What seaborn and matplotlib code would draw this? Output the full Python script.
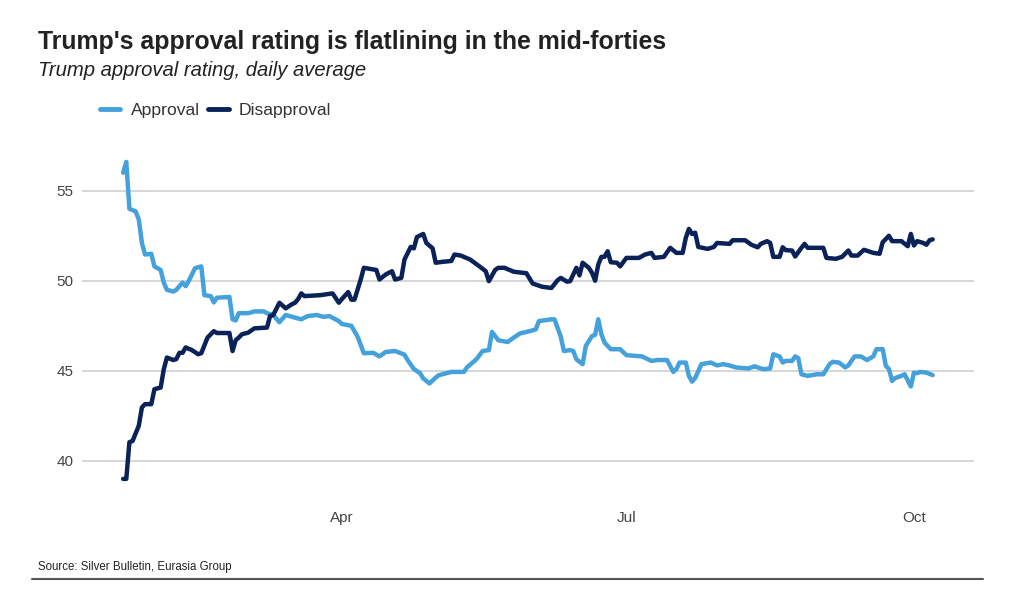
import pandas as pd
import numpy as np
import matplotlib
matplotlib.use("Agg")
import matplotlib.pyplot as plt
from matplotlib.lines import Line2D
import seaborn as sns

approval_dates = [
    "2025-01-21", "2025-01-22", "2025-01-23", "2025-01-25", "2025-01-26", "2025-01-27", "2025-01-28",
    "2025-01-30", "2025-01-31", "2025-02-02", "2025-02-03", "2025-02-04", "2025-02-06", "2025-02-07",
    "2025-02-09", "2025-02-10", "2025-02-11", "2025-02-13", "2025-02-15", "2025-02-16", "2025-02-18",
    "2025-02-19", "2025-02-20", "2025-02-24", "2025-02-25", "2025-02-26", "2025-02-27", "2025-03-02",
    "2025-03-04", "2025-03-07", "2025-03-08", "2025-03-10", "2025-03-12", "2025-03-14", "2025-03-16",
    "2025-03-19", "2025-03-21", "2025-03-24", "2025-03-26", "2025-03-28", "2025-03-31", "2025-04-01",
    "2025-04-04", "2025-04-06", "2025-04-08", "2025-04-11", "2025-04-13", "2025-04-15", "2025-04-18",
    "2025-04-21", "2025-04-22", "2025-04-24", "2025-04-26", "2025-04-27", "2025-04-29", "2025-05-01",
    "2025-05-02", "2025-05-06", "2025-05-10", "2025-05-11", "2025-05-14", "2025-05-16", "2025-05-18",
    "2025-05-19", "2025-05-21", "2025-05-24", "2025-05-26", "2025-05-28", "2025-05-31", "2025-06-02",
    "2025-06-03", "2025-06-07", "2025-06-08", "2025-06-10", "2025-06-11", "2025-06-13", "2025-06-14",
    "2025-06-15", "2025-06-17", "2025-06-18", "2025-06-20", "2025-06-21", "2025-06-22", "2025-06-23",
    "2025-06-24", "2025-06-26", "2025-06-29", "2025-07-01", "2025-07-06", "2025-07-09", "2025-07-11",
    "2025-07-14", "2025-07-16", "2025-07-17", "2025-07-18", "2025-07-20", "2025-07-21", "2025-07-22",
    "2025-07-23", "2025-07-25", "2025-07-28", "2025-07-30", "2025-08-01", "2025-08-03", "2025-08-05",
    "2025-08-09", "2025-08-11", "2025-08-13", "2025-08-14", "2025-08-16", "2025-08-17", "2025-08-19",
    "2025-08-20", "2025-08-21", "2025-08-23", "2025-08-24", "2025-08-25", "2025-08-26", "2025-08-28",
    "2025-08-31", "2025-09-02", "2025-09-04", "2025-09-05", "2025-09-07", "2025-09-09", "2025-09-10",
    "2025-09-12", "2025-09-14", "2025-09-16", "2025-09-18", "2025-09-19", "2025-09-21", "2025-09-22",
    "2025-09-23", "2025-09-24", "2025-09-25", "2025-09-27", "2025-09-28", "2025-09-30", "2025-10-01",
    "2025-10-02", "2025-10-03", "2025-10-05", "2025-10-07",
]
approval_values = [
    56.0, 56.6, 54.0, 53.85, 53.4, 52.1, 51.46,
    51.5, 50.8, 50.6, 49.9, 49.5, 49.4, 49.5,
    49.9, 49.7, 50.0, 50.7, 50.8, 49.2, 49.15,
    48.8, 49.06, 49.1, 47.86, 47.8, 48.2, 48.2,
    48.3, 48.3, 48.2, 48.1, 47.7, 48.1, 48.0,
    47.86, 48.04, 48.1, 48.0, 48.04, 47.76, 47.6,
    47.5, 46.9, 45.98, 46.0, 45.8, 46.05, 46.1,
    45.9, 45.6, 45.1, 44.87, 44.58, 44.3, 44.63,
    44.76, 44.94, 44.94, 45.19, 45.64, 46.1, 46.15,
    47.16, 46.7, 46.6, 46.85, 47.08, 47.2, 47.3,
    47.76, 47.86, 47.86, 46.9, 46.1, 46.15, 46.1,
    45.64, 45.37, 46.38, 46.93, 47.0, 47.86, 47.03,
    46.57, 46.2, 46.2, 45.87, 45.8, 45.55, 45.6,
    45.6, 44.94, 45.1, 45.46, 45.46, 44.72, 44.4,
    44.6, 45.37, 45.46, 45.3, 45.37, 45.3, 45.19,
    45.13, 45.25, 45.13, 45.09, 45.13, 45.92, 45.8,
    45.46, 45.55, 45.55, 45.8, 45.7, 44.81, 44.72,
    44.81, 44.81, 45.37, 45.5, 45.46, 45.19, 45.3,
    45.8, 45.8, 45.6, 45.8, 46.2, 46.2, 45.27,
    45.1, 44.44, 44.6, 44.72, 44.81, 44.13, 44.9,
    44.87, 44.94, 44.9, 44.76,
]

disapproval_dates = [
    "2025-01-21", "2025-01-22", "2025-01-23", "2025-01-24", "2025-01-26", "2025-01-27", "2025-01-28",
    "2025-01-30", "2025-01-31", "2025-02-02", "2025-02-03", "2025-02-04", "2025-02-06", "2025-02-07",
    "2025-02-08", "2025-02-09", "2025-02-10", "2025-02-12", "2025-02-14", "2025-02-15", "2025-02-17",
    "2025-02-19", "2025-02-20", "2025-02-24", "2025-02-25", "2025-02-26", "2025-02-27", "2025-02-28",
    "2025-03-02", "2025-03-04", "2025-03-08", "2025-03-09", "2025-03-10", "2025-03-12", "2025-03-14",
    "2025-03-16", "2025-03-17", "2025-03-18", "2025-03-19", "2025-03-20", "2025-03-25", "2025-03-29",
    "2025-03-31", "2025-04-01", "2025-04-03", "2025-04-04", "2025-04-05", "2025-04-07", "2025-04-08",
    "2025-04-12", "2025-04-13", "2025-04-15", "2025-04-17", "2025-04-18", "2025-04-20", "2025-04-21",
    "2025-04-23", "2025-04-24", "2025-04-25", "2025-04-27", "2025-04-28", "2025-04-30", "2025-05-01",
    "2025-05-03", "2025-05-06", "2025-05-07", "2025-05-09", "2025-05-12", "2025-05-15", "2025-05-17",
    "2025-05-18", "2025-05-20", "2025-05-21", "2025-05-23", "2025-05-26", "2025-05-30", "2025-06-01",
    "2025-06-04", "2025-06-07", "2025-06-09", "2025-06-10", "2025-06-12", "2025-06-13", "2025-06-14",
    "2025-06-15", "2025-06-16", "2025-06-17", "2025-06-19", "2025-06-20", "2025-06-21", "2025-06-22",
    "2025-06-23", "2025-06-24", "2025-06-25", "2025-06-26", "2025-06-28", "2025-06-29", "2025-07-01",
    "2025-07-05", "2025-07-07", "2025-07-09", "2025-07-10", "2025-07-13", "2025-07-15", "2025-07-17",
    "2025-07-19", "2025-07-20", "2025-07-21", "2025-07-22", "2025-07-23", "2025-07-24", "2025-07-27",
    "2025-07-29", "2025-07-30", "2025-08-03", "2025-08-04", "2025-08-08", "2025-08-10", "2025-08-12",
    "2025-08-13", "2025-08-15", "2025-08-16", "2025-08-17", "2025-08-19", "2025-08-20", "2025-08-21",
    "2025-08-23", "2025-08-24", "2025-08-26", "2025-08-27", "2025-08-28", "2025-09-02", "2025-09-03",
    "2025-09-06", "2025-09-08", "2025-09-10", "2025-09-11", "2025-09-13", "2025-09-15", "2025-09-18",
    "2025-09-20", "2025-09-21", "2025-09-23", "2025-09-24", "2025-09-27", "2025-09-29", "2025-09-30",
    "2025-10-01", "2025-10-02", "2025-10-04", "2025-10-05", "2025-10-06", "2025-10-07",
]
disapproval_values = [
    39.0, 39.0, 41.04, 41.1, 41.95, 42.97, 43.15,
    43.15, 43.98, 44.07, 45.09, 45.74, 45.6, 45.65,
    46.0, 46.0, 46.3, 46.15, 45.92, 45.98, 46.85,
    47.2, 47.1, 47.1, 46.1, 46.7, 46.85, 47.03,
    47.12, 47.36, 47.4, 48.04, 48.1, 48.78, 48.47,
    48.7, 48.78, 48.99, 49.3, 49.15, 49.2, 49.3,
    48.78, 48.99, 49.37, 48.95, 48.95, 50.07, 50.72,
    50.6, 50.07, 50.35, 50.53, 50.07, 50.16, 51.18,
    51.88, 51.8, 52.43, 52.6, 52.1, 51.8, 51.0,
    51.05, 51.1, 51.46, 51.4, 51.18, 50.8, 50.53,
    49.98, 50.6, 50.72, 50.72, 50.5, 50.42, 49.85,
    49.67, 49.6, 50.03, 50.16, 49.95, 49.98, 50.35,
    50.72, 50.3, 51.0, 50.72, 50.44, 50.0, 50.9,
    51.33, 51.33, 51.64, 51.03, 51.0, 50.8, 51.27,
    51.27, 51.46, 51.55, 51.27, 51.33, 51.83, 51.55,
    51.55, 52.38, 52.88, 52.6, 52.67, 51.88, 51.77,
    51.88, 52.1, 52.05, 52.25, 52.25, 52.0, 51.86,
    52.05, 52.2, 52.1, 51.33, 51.33, 51.86, 51.7,
    51.68, 51.35, 51.83, 52.05, 51.83, 51.83, 51.27,
    51.22, 51.33, 51.68, 51.4, 51.4, 51.72, 51.55,
    51.5, 52.14, 52.5, 52.2, 52.2, 51.92, 52.6,
    51.96, 52.2, 52.1, 52.0, 52.25, 52.3,
]

series_names = ["Approval", "Disapproval"]
series_colors = ["#45A1DC", "#0A2258"]
y_ticks = [40, 45, 50, 55]
x_tick_dates = ["2025-04-01", "2025-07-01", "2025-10-01"]
x_tick_labels = ["Apr", "Jul", "Oct"]

df = pd.concat([
    pd.DataFrame({"date": pd.to_datetime(approval_dates), "value": approval_values, "series": series_names[0]}),
    pd.DataFrame({"date": pd.to_datetime(disapproval_dates), "value": disapproval_values, "series": series_names[1]}),
], ignore_index=True)

sns.set_theme(style="white")
plt.rcParams["font.family"] = ["Liberation Sans", "DejaVu Sans"]

fig = plt.figure(figsize=(10.24, 5.97), dpi=100)
W, H = 1024, 597
ax_left, ax_right, ax_top, ax_bottom = 82, 974, 136.7, 498.7
ax = fig.add_axes([ax_left / W, 1 - ax_bottom / H, (ax_right - ax_left) / W, (ax_bottom - ax_top) / H])

sns.lineplot(data=df, x="date", y="value", hue="series", hue_order=series_names,
             palette=dict(zip(series_names, series_colors)), linewidth=3.2,
             ax=ax, legend=False, solid_joinstyle="round", solid_capstyle="round")

ax.set_xlim(pd.Timestamp("2025-01-07 20:00"), pd.Timestamp("2025-10-20 05:00"))
ax.set_ylim(37.9, 58)
ax.set_yticks(y_ticks)
ax.set_yticklabels([str(t) for t in y_ticks])
ax.set_xticks(pd.to_datetime(x_tick_dates))
ax.set_xticklabels(x_tick_labels)
ax.grid(axis="y", color="#cfcfcf", linewidth=1.2)
ax.grid(axis="x", visible=False)
for s in ax.spines.values():
    s.set_visible(False)
ax.tick_params(axis="both", length=0, labelsize=11, labelcolor="#444444")
ax.tick_params(axis="y", pad=6)
ax.tick_params(axis="x", pad=9)
ax.set_xlabel("")
ax.set_ylabel("")

fig.text(38 / W, 1 - 42 / H, "Trump's approval rating is flatlining in the mid-forties",
         fontsize=17.9, fontweight="bold", color="#222222", va="center", ha="left")
fig.text(38 / W, 1 - 71 / H, "Trump approval rating, daily average",
         fontsize=14.6, style="italic", color="#222222", va="center", ha="left")

handles = [Line2D([0], [0], color=c, linewidth=3.5) for c in series_colors]
fig.legend(handles, series_names, loc="center left", bbox_to_anchor=(100 / W, 1 - 110 / H),
           ncol=2, frameon=False, fontsize=12.6, handlelength=1.15, handletextpad=0.6,
           columnspacing=0.5, borderpad=0, borderaxespad=0, labelcolor="#333333")

fig.text(38 / W, 1 - 567 / H, "Source: Silver Bulletin, Eurasia Group",
         fontsize=8.3, color="#222222", va="center", ha="left")
fig.add_artist(Line2D([32 / W, 983 / W], [1 - 579 / H, 1 - 579 / H],
                      color="#555555", linewidth=1.5, transform=fig.transFigure))

fig.savefig("out.png", dpi=100)
